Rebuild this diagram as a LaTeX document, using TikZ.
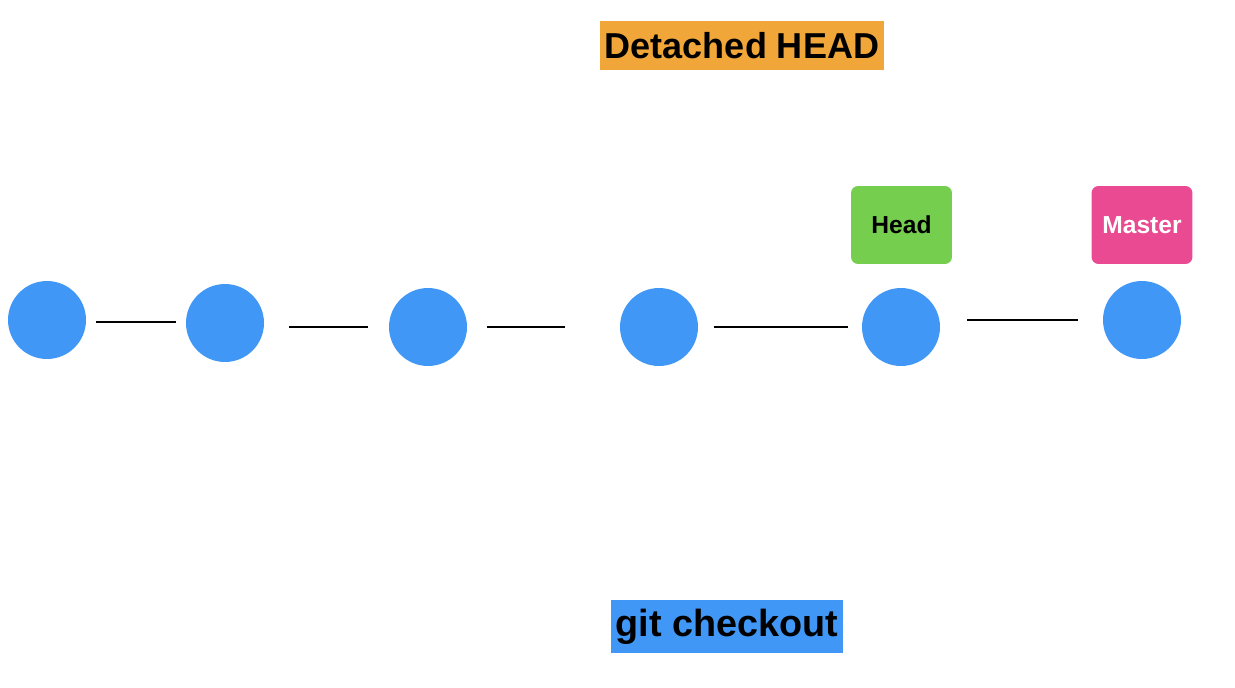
\documentclass[tikz,border=0pt]{standalone}
\usepackage{fontspec}
\setmainfont{Liberation Sans}
\usepackage{tikz}
\usetikzlibrary{positioning,calc}

\definecolor{commitblue}{RGB}{64,151,245}
\definecolor{headgreen}{RGB}{118,206,78}
\definecolor{masterpink}{RGB}{233,74,145}
\definecolor{bannerorange}{RGB}{241,166,58}

\begin{document}
\begin{tikzpicture}[x=0.02cm,y=-0.02cm,
    commit/.style={circle, fill=commitblue, minimum size=1.56cm, inner sep=0pt},
    link/.style={line width=1.1pt, black},
    refbox/.style={rounded corners=4pt, minimum width=2.02cm, minimum height=1.56cm, inner sep=0pt, font=\bfseries\fontsize{14}{16}\selectfont},
    banner/.style={inner sep=0pt, font=\bfseries\fontsize{20.5}{24}\selectfont}]
    \useasboundingbox (0,0) rectangle (1235,687);
    % commits
    \node[commit] (commit-1) at (47,320) {};
\node[commit] (commit-2) at (225,323) {};
\node[commit] (commit-3) at (428,327) {};
\node[commit] (commit-4) at (659,327) {};
\node[commit] (commit-5) at (901,327) {};
\node[commit] (commit-6) at (1142,320) {};
    % links between commits (kept level)
\draw[link, shorten <=0.2cm, shorten >=0.2cm] ([yshift=-0.04cm]commit-1.east) -- ([yshift=-0.04cm]commit-1.east -| commit-2.west);
\draw[link, shorten <=0.5cm, shorten >=0.42cm] (commit-2.east |- commit-3.west) -- (commit-3.west);
\draw[link, shorten <=0.4cm, shorten >=1.1cm] (commit-3.east) -- (commit-4.west);
\draw[link, shorten <=0.32cm, shorten >=0.28cm] (commit-4.east) -- (commit-5.west);
\draw[link, shorten <=0.54cm, shorten >=0.5cm] (commit-5.east |- commit-6.west) -- (commit-6.west);
    % pointers
\node[refbox, fill=headgreen, text=black] (head-ref) at (901.5,225) {Head};
\node[refbox, fill=masterpink, text=white] (master-ref) at (1142,225) {Master};
    % titles
\node[banner, fill=bannerorange, minimum width=5.68cm, minimum height=0.98cm] (detached-title) at (742,45.5) {Detached HEAD};
\node[banner, fill=commitblue, minimum width=4.64cm, minimum height=1.06cm, font=\bfseries\fontsize{21.5}{24}\selectfont] (checkout-title) at (727,626.5) {git checkout};
\end{tikzpicture}
\end{document}
